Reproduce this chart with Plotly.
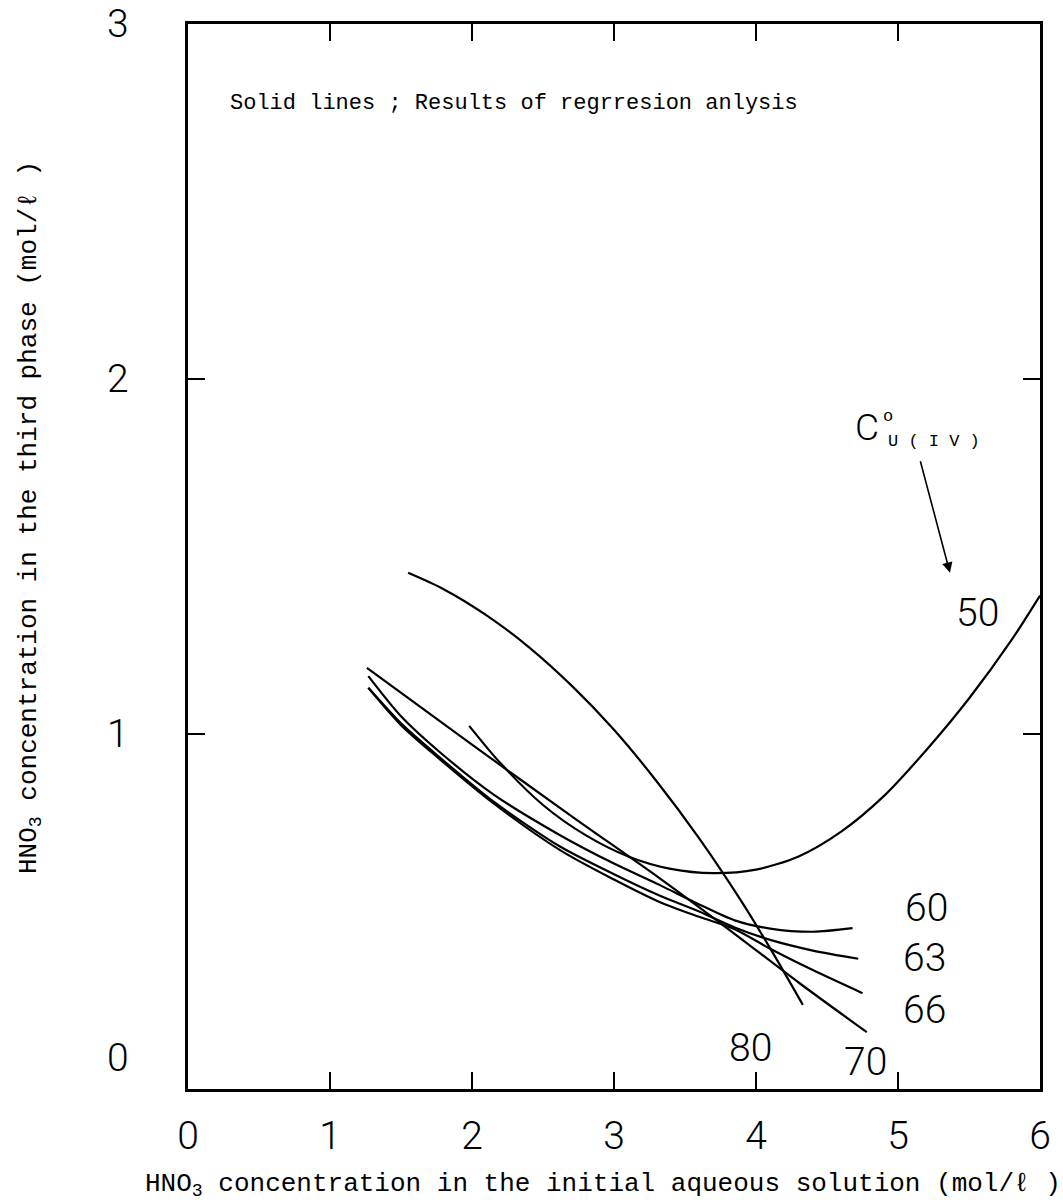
import plotly.graph_objects as go

# HNO3 in the initial aqueous solution (mol/l) vs HNO3 in the third phase (mol/l)
# regression curves for each initial U(IV) concentration
x_50 = [1.98, 2.20, 2.50, 2.80, 3.10, 3.40, 3.70, 4.00, 4.30, 4.60, 4.90, 5.20, 5.50, 5.80, 6.00]
y_50 = [1.023, 0.918, 0.800, 0.715, 0.655, 0.620, 0.608, 0.618, 0.655, 0.725, 0.825, 0.955, 1.100, 1.265, 1.390]

x_60 = [1.27, 1.50, 1.77, 2.15, 2.62, 3.00, 3.32, 3.60, 3.85, 4.10, 4.40, 4.68]
y_60 = [1.163, 1.050, 0.950, 0.830, 0.715, 0.635, 0.575, 0.520, 0.475, 0.452, 0.443, 0.453]

x_63 = [1.27, 1.50, 1.77, 2.15, 2.62, 3.00, 3.32, 3.60, 3.85, 4.10, 4.40, 4.72]
y_63 = [1.130, 1.030, 0.935, 0.810, 0.683, 0.605, 0.545, 0.500, 0.455, 0.420, 0.390, 0.367]

x_66 = [1.27, 1.50, 1.77, 2.15, 2.62, 3.00, 3.32, 3.60, 3.85, 4.10, 4.40, 4.75]
y_66 = [1.130, 1.025, 0.930, 0.805, 0.673, 0.590, 0.527, 0.485, 0.450, 0.395, 0.335, 0.270]

x_70 = [1.26, 2.00, 2.71, 3.32, 3.80, 4.30, 4.78]
y_70 = [1.186, 0.970, 0.766, 0.594, 0.452, 0.300, 0.160]

x_80 = [1.55, 1.80, 2.10, 2.40, 2.70, 3.00, 3.30, 3.60, 3.90, 4.10, 4.33]
y_80 = [1.454, 1.408, 1.335, 1.245, 1.137, 1.012, 0.867, 0.706, 0.527, 0.396, 0.237]

curve_labels = ["50", "60", "63", "66", "70", "80"]
label_x = [5.56, 5.20, 5.19, 5.19, 4.77, 3.96]
label_y = [1.34, 0.51, 0.369, 0.222, 0.076, 0.115]

x_ticks = [0, 1, 2, 3, 4, 5, 6]
y_ticks = [0, 1, 2, 3]

MONO = "Liberation Mono, Courier New, monospace"
DIGITS = "Roboto, Liberation Sans, sans-serif"

fig = go.Figure()
for xs, ys in [(x_50, y_50), (x_60, y_60), (x_63, y_63), (x_66, y_66), (x_70, y_70), (x_80, y_80)]:
    fig.add_trace(go.Scatter(x=xs, y=ys, mode="lines",
                             line=dict(color="black", width=2.2, shape="spline", smoothing=0.8),
                             showlegend=False, hoverinfo="skip"))

digit_font = dict(family=DIGITS, size=39, color="black", weight=300)

annotations = []
for t, lx, ly in zip(curve_labels, label_x, label_y):
    annotations.append(dict(x=lx, y=ly, xref="x", yref="y", text=t, showarrow=False,
                            xanchor="center", yanchor="middle", font=digit_font))

# y tick labels (the zero label sits above the x axis)
for v in y_ticks:
    annotations.append(dict(x=0, y=v, xref="x", yref="y", text=str(v), showarrow=False,
                            xanchor="center", yanchor="middle",
                            xshift=-70, yshift=31 if v == 0 else 0, font=digit_font))

# C°U(IV) marker with arrow
annotations.append(dict(x=5.366, y=1.454, xref="x", yref="y", text="", showarrow=True,
                        ax=-30, ay=-113, arrowhead=2, arrowsize=1.3, arrowwidth=1.6,
                        arrowcolor="black"))

# texts positioned in page pixels (converted to paper units below)
pixel_texts = [
    dict(px=867, py=427, text="C", font=dict(family=DIGITS, size=37, color="black", weight=300)),
    dict(px=888, py=417, text="o", font=dict(family=MONO, size=17, color="black")),
    dict(px=934, py=442, text="U ( I V )", font=dict(family=MONO, size=17, color="black")),
    dict(px=228, py=104, text="Solid lines ; Results of regrresion anlysis",
         font=dict(family=MONO, size=22, color="black"), xanchor="left"),
    dict(px=603, py=1185,
         text="HNO<sub>3</sub> concentration in the initial aqueous solution (mol/ℓ )",
         font=dict(family=MONO, size=26, color="black")),
    dict(px=30, py=518,
         text="HNO<sub>3</sub> concentration in the third phase (mol/ℓ )",
         font=dict(family=MONO, size=26, color="black"), textangle=-90),
]
for p in pixel_texts:
    annotations.append(dict(
        x=(p["px"] - 188) / (1040 - 188), y=(1089 - p["py"]) / (1089 - 24),
        xref="paper", yref="paper", text=p["text"], showarrow=False,
        xanchor=p.get("xanchor", "center"), yanchor="middle",
        textangle=p.get("textangle", 0), font=p["font"]))

fig.update_layout(
    width=1063, height=1202,
    margin=dict(l=188, r=23, t=24, b=113),
    paper_bgcolor="white", plot_bgcolor="white",
    annotations=annotations,
    xaxis=dict(range=[0, 6], tickvals=x_ticks, ticktext=[str(v) for v in x_ticks],
               ticks="inside", ticklen=17, tickwidth=2, tickcolor="black",
               showline=True, linecolor="black", linewidth=2.5, mirror="allticks",
               showgrid=False, zeroline=False, ticklabelstandoff=10,
               tickfont=digit_font),
    yaxis=dict(range=[0, 3], tickvals=y_ticks, showticklabels=False,
               ticks="inside", ticklen=17, tickwidth=2, tickcolor="black",
               showline=True, linecolor="black", linewidth=2.5, mirror="allticks",
               showgrid=False, zeroline=False),
)

fig.write_html("out.html")
